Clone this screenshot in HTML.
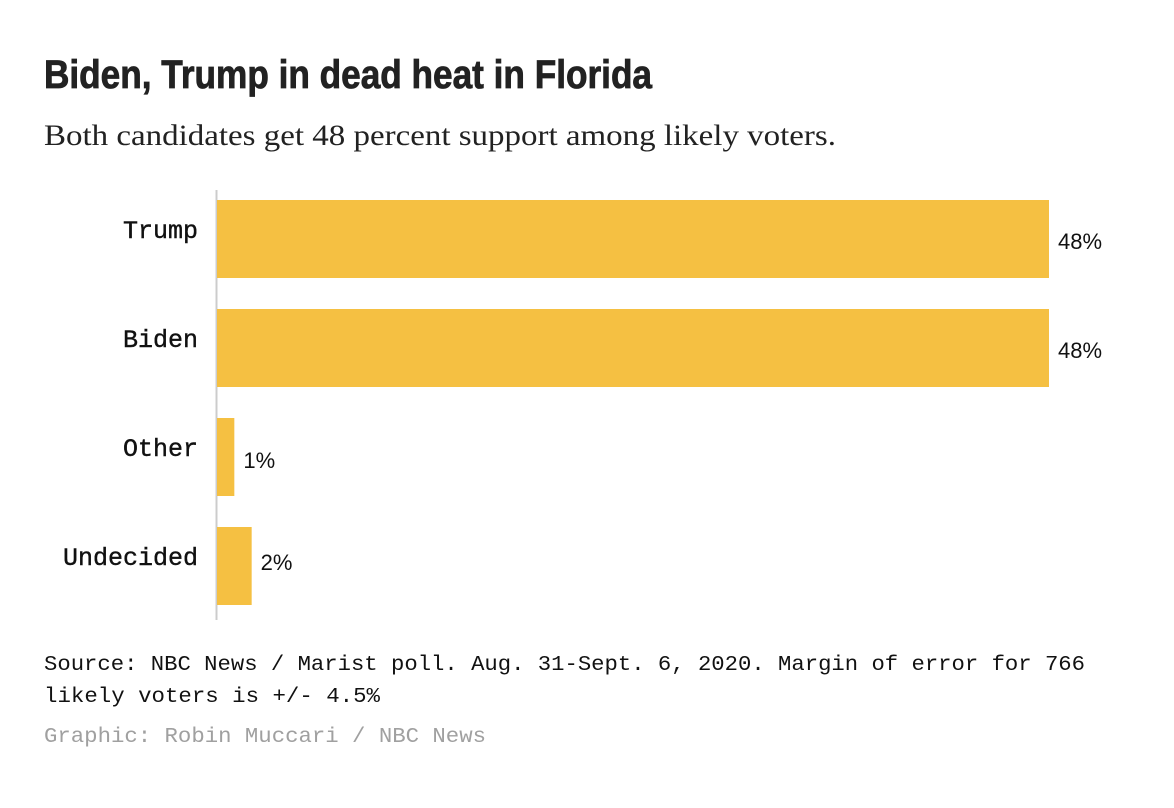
<!DOCTYPE html>
<html><head><meta charset="utf-8"><style>
body{margin:0;background:#fff;}
svg{display:block}
</style></head><body>
<svg width="1174" height="808" xmlns="http://www.w3.org/2000/svg">
<text x="44" y="88" font-family="'Liberation Sans Narrow','Liberation Sans',sans-serif" font-weight="bold" font-size="40" fill="#222" stroke="#222" stroke-width="0.8" textLength="608" lengthAdjust="spacingAndGlyphs">Biden, Trump in dead heat in Florida</text>
<text x="44" y="145" font-family="'Liberation Serif',serif" font-size="30" fill="#222" textLength="792" lengthAdjust="spacingAndGlyphs">Both candidates get 48 percent support among likely voters.</text>
<line x1="216.5" y1="190" x2="216.5" y2="620" stroke="#ccc" stroke-width="2"/>
<g id="bars"></g>
<text x="44" y="670" font-family="'Liberation Mono',monospace" font-size="21" fill="#111" textLength="1041" lengthAdjust="spacingAndGlyphs">Source: NBC News / Marist poll. Aug. 31-Sept. 6, 2020. Margin of error for 766</text>
<text x="44" y="702" font-family="'Liberation Mono',monospace" font-size="21" fill="#111" textLength="336" lengthAdjust="spacingAndGlyphs">likely voters is +/- 4.5%</text>
<text x="44" y="742" font-family="'Liberation Mono',monospace" font-size="21" fill="#a0a0a0" textLength="442" lengthAdjust="spacingAndGlyphs">Graphic: Robin Muccari / NBC News</text>
</svg>
<script>
const categories=["Trump","Biden","Other","Undecided"];
const values=[48,48,1,2];
const valueLabels=["48%","48%","1%","2%"];
const g=document.getElementById('bars');
const NS="http://www.w3.org/2000/svg";
const x0=217, pxPer=832/48;
const xs=v=>x0+v*pxPer;
const y0=200, step=109, bh=78;
const ys=i=>y0+i*step;
categories.forEach((c,i)=>{
  const r=document.createElementNS(NS,'rect');
  
  
  r.setAttribute('x',x0);r.setAttribute('y',ys(i));
  r.setAttribute('width',xs(values[i])-x0);r.setAttribute('height',bh);
  r.setAttribute('fill','#f5c042');
  g.appendChild(r);
  const l=document.createElementNS(NS,'text');
  
  
  l.setAttribute('x',198);l.setAttribute('y',ys(i)+bh/2-1);
  l.setAttribute('text-anchor','end');
  l.setAttribute('font-family',"'Liberation Mono',monospace");
  l.setAttribute('font-size','25');l.setAttribute('fill','#111');
  l.setAttribute('stroke','#111');l.setAttribute('stroke-width','0.4');
  l.textContent=c;g.appendChild(l);
  const v=document.createElementNS(NS,'text');
  
  
  v.setAttribute('x',xs(values[i])+9);v.setAttribute('y',ys(i)+bh/2+ (i<2?10:(i==2?11:4)));
  v.setAttribute('font-family',"'Liberation Sans',sans-serif");
  v.setAttribute('font-size','22');v.setAttribute('fill','#111');
  v.textContent=valueLabels[i];g.appendChild(v);
});
</script>
</body></html>
